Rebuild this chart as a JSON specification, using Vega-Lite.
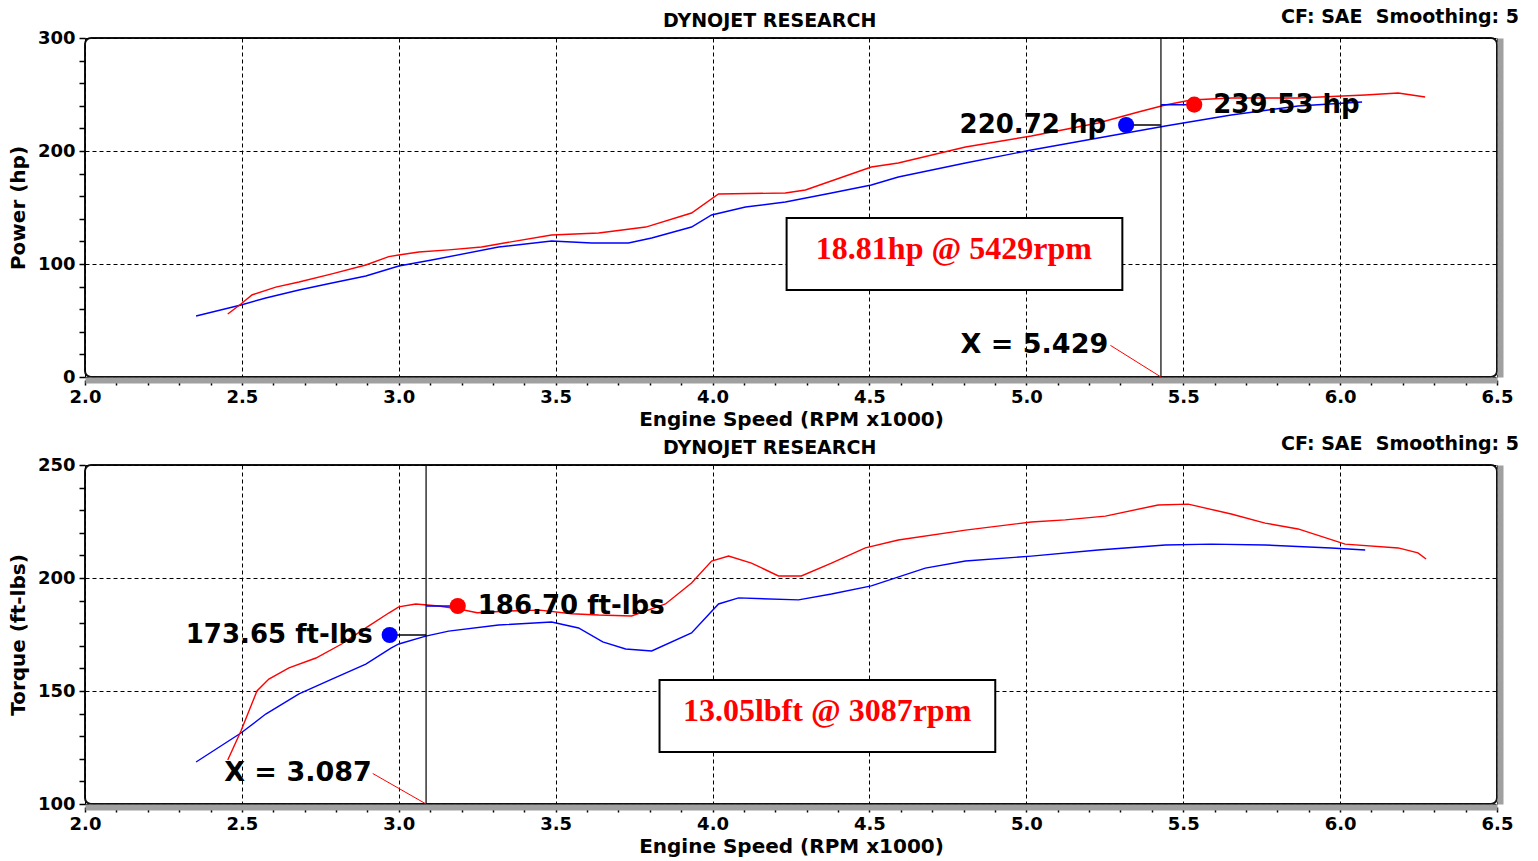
{
  "$schema": "https://vega.github.io/schema/vega-lite/v6.json",
  "background": "white",
  "padding": {"left": 7, "top": 7, "right": 4, "bottom": 2},
  "spacing": 4,
  "config": {
    "view": {"stroke": "#111", "strokeWidth": 2, "cornerRadius": 6},
    "font": "DejaVu Sans",
    "axis": {
      "labelFont": "DejaVu Sans", "labelFontWeight": "bold", "labelFontSize": 18, "labelColor": "#000",
      "titleFont": "DejaVu Sans", "titleFontWeight": "bold", "titleFontSize": 20, "titleColor": "#000",
      "tickColor": "#000", "tickWidth": 1.5, "gridColor": "#000", "gridDash": [4, 3], "gridWidth": 1
    }
  },
  "datasets": {
    "power": [
      {"run": "Run 1", "rpm": 2.354, "hp": 54.0}, {"run": "Run 1", "rpm": 2.497, "hp": 63.7}, {"run": "Run 1", "rpm": 2.576, "hp": 69.9},
      {"run": "Run 1", "rpm": 2.682, "hp": 77.0}, {"run": "Run 1", "rpm": 2.787, "hp": 83.2}, {"run": "Run 1", "rpm": 2.895, "hp": 89.4},
      {"run": "Run 1", "rpm": 3.0, "hp": 98.2}, {"run": "Run 1", "rpm": 3.105, "hp": 103.5}, {"run": "Run 1", "rpm": 3.318, "hp": 115.0},
      {"run": "Run 1", "rpm": 3.487, "hp": 120.4}, {"run": "Run 1", "rpm": 3.615, "hp": 118.6}, {"run": "Run 1", "rpm": 3.732, "hp": 118.6},
      {"run": "Run 1", "rpm": 3.806, "hp": 123.0}, {"run": "Run 1", "rpm": 3.933, "hp": 132.7}, {"run": "Run 1", "rpm": 3.997, "hp": 143.4},
      {"run": "Run 1", "rpm": 4.105, "hp": 150.4}, {"run": "Run 1", "rpm": 4.232, "hp": 154.9}, {"run": "Run 1", "rpm": 4.379, "hp": 162.8},
      {"run": "Run 1", "rpm": 4.506, "hp": 169.9}, {"run": "Run 1", "rpm": 4.592, "hp": 177.0}, {"run": "Run 1", "rpm": 4.806, "hp": 189.4},
      {"run": "Run 1", "rpm": 5.016, "hp": 200.9}, {"run": "Run 1", "rpm": 5.229, "hp": 211.5}, {"run": "Run 1", "rpm": 5.443, "hp": 222.1},
      {"run": "Run 1", "rpm": 5.653, "hp": 231.9}, {"run": "Run 1", "rpm": 5.866, "hp": 239.8}, {"run": "Run 1", "rpm": 6.07, "hp": 243.4},
      {"run": "Run 2", "rpm": 2.455, "hp": 55.8}, {"run": "Run 2", "rpm": 2.497, "hp": 64.6}, {"run": "Run 2", "rpm": 2.532, "hp": 72.6},
      {"run": "Run 2", "rpm": 2.608, "hp": 79.6}, {"run": "Run 2", "rpm": 2.682, "hp": 84.1}, {"run": "Run 2", "rpm": 2.787, "hp": 91.2},
      {"run": "Run 2", "rpm": 2.895, "hp": 99.1}, {"run": "Run 2", "rpm": 2.968, "hp": 106.5}, {"run": "Run 2", "rpm": 3.0, "hp": 108.0},
      {"run": "Run 2", "rpm": 3.064, "hp": 110.6}, {"run": "Run 2", "rpm": 3.159, "hp": 112.5}, {"run": "Run 2", "rpm": 3.264, "hp": 115.0},
      {"run": "Run 2", "rpm": 3.318, "hp": 117.7}, {"run": "Run 2", "rpm": 3.487, "hp": 125.7}, {"run": "Run 2", "rpm": 3.637, "hp": 127.4},
      {"run": "Run 2", "rpm": 3.787, "hp": 132.7}, {"run": "Run 2", "rpm": 3.933, "hp": 145.1}, {"run": "Run 2", "rpm": 4.019, "hp": 162.0},
      {"run": "Run 2", "rpm": 4.232, "hp": 162.8}, {"run": "Run 2", "rpm": 4.296, "hp": 165.5}, {"run": "Run 2", "rpm": 4.506, "hp": 185.8},
      {"run": "Run 2", "rpm": 4.592, "hp": 189.4}, {"run": "Run 2", "rpm": 4.806, "hp": 203.5}, {"run": "Run 2", "rpm": 5.016, "hp": 213.3},
      {"run": "Run 2", "rpm": 5.229, "hp": 224.8}, {"run": "Run 2", "rpm": 5.357, "hp": 234.5}, {"run": "Run 2", "rpm": 5.443, "hp": 240.7},
      {"run": "Run 2", "rpm": 5.525, "hp": 245.1}, {"run": "Run 2", "rpm": 5.653, "hp": 246.9}, {"run": "Run 2", "rpm": 5.866, "hp": 246.9},
      {"run": "Run 2", "rpm": 6.08, "hp": 249.6}, {"run": "Run 2", "rpm": 6.185, "hp": 251.3}, {"run": "Run 2", "rpm": 6.271, "hp": 247.8}
    ],
    "torque": [
      {"run": "Run 1", "rpm": 2.354, "tq": 118.6}, {"run": "Run 1", "rpm": 2.497, "tq": 131.4}, {"run": "Run 1", "rpm": 2.576, "tq": 139.8},
      {"run": "Run 1", "rpm": 2.682, "tq": 148.7}, {"run": "Run 1", "rpm": 2.787, "tq": 155.3}, {"run": "Run 1", "rpm": 2.895, "tq": 161.9},
      {"run": "Run 1", "rpm": 2.975, "tq": 169.0}, {"run": "Run 1", "rpm": 3.0, "tq": 170.8}, {"run": "Run 1", "rpm": 3.086, "tq": 174.3},
      {"run": "Run 1", "rpm": 3.159, "tq": 176.5}, {"run": "Run 1", "rpm": 3.318, "tq": 179.2}, {"run": "Run 1", "rpm": 3.487, "tq": 180.5},
      {"run": "Run 1", "rpm": 3.573, "tq": 177.9}, {"run": "Run 1", "rpm": 3.65, "tq": 171.7}, {"run": "Run 1", "rpm": 3.723, "tq": 168.6},
      {"run": "Run 1", "rpm": 3.806, "tq": 167.7}, {"run": "Run 1", "rpm": 3.933, "tq": 175.7}, {"run": "Run 1", "rpm": 4.019, "tq": 188.5},
      {"run": "Run 1", "rpm": 4.083, "tq": 191.2}, {"run": "Run 1", "rpm": 4.274, "tq": 190.3}, {"run": "Run 1", "rpm": 4.379, "tq": 192.9},
      {"run": "Run 1", "rpm": 4.506, "tq": 196.5}, {"run": "Run 1", "rpm": 4.678, "tq": 204.4}, {"run": "Run 1", "rpm": 4.806, "tq": 207.5},
      {"run": "Run 1", "rpm": 5.016, "tq": 209.7}, {"run": "Run 1", "rpm": 5.229, "tq": 212.4}, {"run": "Run 1", "rpm": 5.443, "tq": 214.6},
      {"run": "Run 1", "rpm": 5.589, "tq": 215.0}, {"run": "Run 1", "rpm": 5.761, "tq": 214.6}, {"run": "Run 1", "rpm": 5.971, "tq": 213.3},
      {"run": "Run 1", "rpm": 6.08, "tq": 212.4},
      {"run": "Run 2", "rpm": 2.455, "tq": 119.5}, {"run": "Run 2", "rpm": 2.497, "tq": 132.3}, {"run": "Run 2", "rpm": 2.548, "tq": 150.0},
      {"run": "Run 2", "rpm": 2.586, "tq": 155.3}, {"run": "Run 2", "rpm": 2.65, "tq": 160.2}, {"run": "Run 2", "rpm": 2.736, "tq": 164.6},
      {"run": "Run 2", "rpm": 2.818, "tq": 170.8}, {"run": "Run 2", "rpm": 2.895, "tq": 177.9}, {"run": "Run 2", "rpm": 2.968, "tq": 184.5},
      {"run": "Run 2", "rpm": 3.0, "tq": 187.2}, {"run": "Run 2", "rpm": 3.054, "tq": 188.5}, {"run": "Run 2", "rpm": 3.127, "tq": 187.6},
      {"run": "Run 2", "rpm": 3.191, "tq": 186.3}, {"run": "Run 2", "rpm": 3.25, "tq": 184.6}, {"run": "Run 2", "rpm": 3.35, "tq": 185.4},
      {"run": "Run 2", "rpm": 3.45, "tq": 185.8}, {"run": "Run 2", "rpm": 3.55, "tq": 184.2}, {"run": "Run 2", "rpm": 3.637, "tq": 183.6},
      {"run": "Run 2", "rpm": 3.742, "tq": 183.2}, {"run": "Run 2", "rpm": 3.85, "tq": 188.5}, {"run": "Run 2", "rpm": 3.933, "tq": 197.8},
      {"run": "Run 2", "rpm": 3.997, "tq": 207.5}, {"run": "Run 2", "rpm": 4.051, "tq": 209.7}, {"run": "Run 2", "rpm": 4.124, "tq": 206.6},
      {"run": "Run 2", "rpm": 4.21, "tq": 200.9}, {"run": "Run 2", "rpm": 4.283, "tq": 200.9}, {"run": "Run 2", "rpm": 4.379, "tq": 206.6},
      {"run": "Run 2", "rpm": 4.487, "tq": 213.3}, {"run": "Run 2", "rpm": 4.592, "tq": 216.8}, {"run": "Run 2", "rpm": 4.806, "tq": 221.2},
      {"run": "Run 2", "rpm": 5.016, "tq": 224.8}, {"run": "Run 2", "rpm": 5.124, "tq": 225.7}, {"run": "Run 2", "rpm": 5.252, "tq": 227.4},
      {"run": "Run 2", "rpm": 5.42, "tq": 232.3}, {"run": "Run 2", "rpm": 5.516, "tq": 232.7}, {"run": "Run 2", "rpm": 5.653, "tq": 228.3},
      {"run": "Run 2", "rpm": 5.761, "tq": 224.3}, {"run": "Run 2", "rpm": 5.866, "tq": 221.7}, {"run": "Run 2", "rpm": 6.016, "tq": 215.0},
      {"run": "Run 2", "rpm": 6.185, "tq": 213.3}, {"run": "Run 2", "rpm": 6.248, "tq": 211.1}, {"run": "Run 2", "rpm": 6.274, "tq": 208.4}
    ],
    "top_dots": [
      {"run": "Run 1", "rpm": 5.318, "hp": 223, "label": "220.72 hp"},
      {"run": "Run 2", "rpm": 5.535, "hp": 241, "label": "239.53 hp"}
    ],
    "bot_dots": [
      {"run": "Run 1", "rpm": 2.971, "tq": 174.8, "label": "173.65 ft-lbs"},
      {"run": "Run 2", "rpm": 3.188, "tq": 187.6, "label": "186.70 ft-lbs"}
    ]
  },
  "vconcat": [
    {
      "width": 1412,
      "height": 339,
      "resolve": {"axis": {"y": "independent"}},
      "layer": [
        {
          "data": {"name": "power"},
          "mark": {"type": "line", "strokeWidth": 1.4},
          "encoding": {
            "x": {"field": "rpm", "type": "quantitative", "scale": {"domain": [2, 6.5], "nice": false, "zero": false},
              "axis": {"title": "Engine Speed (RPM x1000)", "tickCount": 200,
                "values": [2.0,2.1,2.2,2.3,2.4,2.5,2.6,2.7,2.8,2.9,3.0,3.1,3.2,3.3,3.4,3.5,3.6,3.7,3.8,3.9,4.0,4.1,4.2,4.3,4.4,4.5,4.6,4.7,4.8,4.9,5.0,5.1,5.2,5.3,5.4,5.5,5.6,5.7,5.8,5.9,6.0,6.1,6.2,6.3,6.4,6.5],
                "labelExpr": "abs(datum.value * 2 - round(datum.value * 2)) < 0.001 ? format(datum.value, '.1f') : ''",
                "labelOverlap": false,
                "gridOpacity": {"condition": {"test": "abs(datum.value * 2 - round(datum.value * 2)) < 0.001", "value": 1}, "value": 0},
                "domainColor": "#a0a0a0", "domainWidth": 6, "offset": 3, "tickSize": 5, "labelPadding": 3, "titlePadding": 3, "labelFlush": false}},
            "y": {"field": "hp", "type": "quantitative", "scale": {"domain": [0, 300], "nice": false},
              "axis": {"title": "Power (hp)", "tickCount": 200,
                "values": [0,20,40,60,80,100,120,140,160,180,200,220,240,260,280,300],
                "labelExpr": "datum.value % 100 === 0 ? datum.label : ''",
                "labelOverlap": false,
                "gridOpacity": {"condition": {"test": "datum.value % 100 === 0", "value": 1}, "value": 0},
                "domain": false, "tickSize": 6, "labelPadding": 4, "titlePadding": 9, "labelFlush": false}},
            "color": {"field": "run", "type": "nominal", "scale": {"domain": ["Run 1", "Run 2"], "range": ["#0000ff", "#ff0000"]}, "legend": null}
          }
        },
        {
          "data": {"values": [{"x": 5.429}]},
          "mark": {"type": "rule", "color": "#000", "strokeWidth": 1.2},
          "encoding": {"x": {"field": "x", "type": "quantitative"}}
        },
        {
          "data": {"values": [{"x": 5.318, "x2": 5.429, "y": 223}]},
          "mark": {"type": "rule", "color": "#000", "strokeWidth": 1.5},
          "encoding": {"x": {"field": "x", "type": "quantitative"}, "x2": {"field": "x2"}, "y": {"field": "y", "type": "quantitative", "axis": null}}
        },
        {
          "data": {"values": [{"x": 5.429, "x2": 5.535, "y": 241}]},
          "mark": {"type": "rule", "color": "#0000ff", "strokeWidth": 1.5},
          "encoding": {"x": {"field": "x", "type": "quantitative"}, "x2": {"field": "x2"}, "y": {"field": "y", "type": "quantitative", "axis": null}}
        },
        {
          "data": {"name": "top_dots"},
          "mark": {"type": "circle", "size": 260, "opacity": 1},
          "encoding": {
            "x": {"field": "rpm", "type": "quantitative"},
            "y": {"field": "hp", "type": "quantitative",
              "axis": {"orient": "right", "labels": false, "ticks": false, "grid": false, "title": null, "domainColor": "#a0a0a0", "domainWidth": 6, "offset": 3}},
            "color": {"field": "run", "type": "nominal", "legend": null}
          }
        },
        {
          "data": {"name": "top_dots"},
          "transform": [{"filter": "datum.run === 'Run 1'"}],
          "mark": {"type": "text", "align": "right", "baseline": "middle", "dx": -20, "font": "DejaVu Sans", "fontWeight": "bold", "fontSize": 26, "color": "#000"},
          "encoding": {"x": {"field": "rpm", "type": "quantitative"}, "y": {"field": "hp", "type": "quantitative", "axis": null}, "text": {"field": "label"}}
        },
        {
          "data": {"name": "top_dots"},
          "transform": [{"filter": "datum.run === 'Run 2'"}],
          "mark": {"type": "text", "align": "left", "baseline": "middle", "dx": 19, "font": "DejaVu Sans", "fontWeight": "bold", "fontSize": 26, "color": "#000"},
          "encoding": {"x": {"field": "rpm", "type": "quantitative"}, "y": {"field": "hp", "type": "quantitative", "axis": null}, "text": {"field": "label"}}
        },
        {
          "data": {"values": [{"x": 4.236, "x2": 5.306, "y": 140.7, "y2": 77}]},
          "mark": {"type": "rect", "fill": "#fff", "stroke": "#000", "strokeWidth": 2},
          "encoding": {"x": {"field": "x", "type": "quantitative"}, "x2": {"field": "x2"}, "y": {"field": "y", "type": "quantitative", "axis": null}, "y2": {"field": "y2"}}
        },
        {
          "data": {"values": [{"x": 4.769, "y": 104.4, "t": "18.81hp @ 5429rpm"}]},
          "mark": {"type": "text", "align": "center", "baseline": "alphabetic", "font": "Liberation Serif", "fontWeight": "bold", "fontSize": 32, "color": "#ff0000"},
          "encoding": {"x": {"field": "x", "type": "quantitative"}, "y": {"field": "y", "type": "quantitative", "axis": null}, "text": {"field": "t"}}
        },
        {
          "data": {"values": [{"x": 5.268, "y": 28, "x2": 5.429, "y2": 0}]},
          "mark": {"type": "rule", "color": "#ff0000", "strokeWidth": 1},
          "encoding": {"x": {"field": "x", "type": "quantitative"}, "x2": {"field": "x2"}, "y": {"field": "y", "type": "quantitative", "axis": null}, "y2": {"field": "y2"}}
        },
        {
          "data": {"values": [{"x": 5.261, "y": 21.2, "t": "X = 5.429"}]},
          "mark": {"type": "text", "align": "right", "baseline": "alphabetic", "font": "DejaVu Sans", "fontWeight": "bold", "fontSize": 27, "color": "#000"},
          "encoding": {"x": {"field": "x", "type": "quantitative"}, "y": {"field": "y", "type": "quantitative", "axis": null}, "text": {"field": "t"}}
        },
        {
          "data": {"values": [{"x": 4.182, "y": 300, "t": "DYNOJET RESEARCH"}]},
          "mark": {"type": "text", "align": "center", "baseline": "alphabetic", "dy": -11, "font": "DejaVu Sans", "fontWeight": "bold", "fontSize": 19, "color": "#000"},
          "encoding": {"x": {"field": "x", "type": "quantitative"}, "y": {"field": "y", "type": "quantitative", "axis": null}, "text": {"field": "t"}}
        },
        {
          "data": {"values": [{"x": 6.5, "y": 300, "t": "CF: SAE \u00a0Smoothing: 5"}]},
          "mark": {"type": "text", "align": "right", "baseline": "alphabetic", "dx": 22, "dy": -15, "font": "DejaVu Sans", "fontWeight": "bold", "fontSize": 19, "color": "#000"},
          "encoding": {"x": {"field": "x", "type": "quantitative"}, "y": {"field": "y", "type": "quantitative", "axis": null}, "text": {"field": "t"}}
        }
      ]
    },
    {
      "width": 1412,
      "height": 339,
      "resolve": {"axis": {"y": "independent"}},
      "layer": [
        {
          "data": {"name": "torque"},
          "mark": {"type": "line", "strokeWidth": 1.4},
          "encoding": {
            "x": {"field": "rpm", "type": "quantitative", "scale": {"domain": [2, 6.5], "nice": false, "zero": false},
              "axis": {"title": "Engine Speed (RPM x1000)", "tickCount": 200,
                "values": [2.0,2.1,2.2,2.3,2.4,2.5,2.6,2.7,2.8,2.9,3.0,3.1,3.2,3.3,3.4,3.5,3.6,3.7,3.8,3.9,4.0,4.1,4.2,4.3,4.4,4.5,4.6,4.7,4.8,4.9,5.0,5.1,5.2,5.3,5.4,5.5,5.6,5.7,5.8,5.9,6.0,6.1,6.2,6.3,6.4,6.5],
                "labelExpr": "abs(datum.value * 2 - round(datum.value * 2)) < 0.001 ? format(datum.value, '.1f') : ''",
                "labelOverlap": false,
                "gridOpacity": {"condition": {"test": "abs(datum.value * 2 - round(datum.value * 2)) < 0.001", "value": 1}, "value": 0},
                "domainColor": "#a0a0a0", "domainWidth": 6, "offset": 3, "tickSize": 5, "labelPadding": 3, "titlePadding": 3, "labelFlush": false}},
            "y": {"field": "tq", "type": "quantitative", "scale": {"domain": [100, 250], "nice": false, "zero": false},
              "axis": {"title": "Torque (ft-lbs)", "tickCount": 200,
                "values": [100,110,120,130,140,150,160,170,180,190,200,210,220,230,240,250],
                "labelExpr": "datum.value % 50 === 0 ? datum.label : ''",
                "labelOverlap": false,
                "gridOpacity": {"condition": {"test": "datum.value % 50 === 0", "value": 1}, "value": 0},
                "domain": false, "tickSize": 6, "labelPadding": 4, "titlePadding": 9, "labelFlush": false}},
            "color": {"field": "run", "type": "nominal", "scale": {"domain": ["Run 1", "Run 2"], "range": ["#0000ff", "#ff0000"]}, "legend": null}
          }
        },
        {
          "data": {"values": [{"x": 3.087}]},
          "mark": {"type": "rule", "color": "#000", "strokeWidth": 1.2},
          "encoding": {"x": {"field": "x", "type": "quantitative"}}
        },
        {
          "data": {"values": [{"x": 2.971, "x2": 3.087, "y": 174.8}]},
          "mark": {"type": "rule", "color": "#000", "strokeWidth": 1.5},
          "encoding": {"x": {"field": "x", "type": "quantitative"}, "x2": {"field": "x2"}, "y": {"field": "y", "type": "quantitative", "axis": null}}
        },
        {
          "data": {"values": [{"x": 3.087, "x2": 3.188, "y": 187.6}]},
          "mark": {"type": "rule", "color": "#0000ff", "strokeWidth": 1.5},
          "encoding": {"x": {"field": "x", "type": "quantitative"}, "x2": {"field": "x2"}, "y": {"field": "y", "type": "quantitative", "axis": null}}
        },
        {
          "data": {"name": "bot_dots"},
          "mark": {"type": "circle", "size": 260, "opacity": 1},
          "encoding": {
            "x": {"field": "rpm", "type": "quantitative"},
            "y": {"field": "tq", "type": "quantitative",
              "axis": {"orient": "right", "labels": false, "ticks": false, "grid": false, "title": null, "domainColor": "#a0a0a0", "domainWidth": 6, "offset": 3}},
            "color": {"field": "run", "type": "nominal", "legend": null}
          }
        },
        {
          "data": {"name": "bot_dots"},
          "transform": [{"filter": "datum.run === 'Run 1'"}],
          "mark": {"type": "text", "align": "right", "baseline": "middle", "dx": -17, "font": "DejaVu Sans", "fontWeight": "bold", "fontSize": 26, "color": "#000"},
          "encoding": {"x": {"field": "rpm", "type": "quantitative"}, "y": {"field": "tq", "type": "quantitative", "axis": null}, "text": {"field": "label"}}
        },
        {
          "data": {"name": "bot_dots"},
          "transform": [{"filter": "datum.run === 'Run 2'"}],
          "mark": {"type": "text", "align": "left", "baseline": "middle", "dx": 20, "font": "DejaVu Sans", "fontWeight": "bold", "fontSize": 26, "color": "#000"},
          "encoding": {"x": {"field": "rpm", "type": "quantitative"}, "y": {"field": "tq", "type": "quantitative", "axis": null}, "text": {"field": "label"}}
        },
        {
          "data": {"values": [{"x": 3.831, "x2": 4.901, "y": 154.9, "y2": 123}]},
          "mark": {"type": "rect", "fill": "#fff", "stroke": "#000", "strokeWidth": 2},
          "encoding": {"x": {"field": "x", "type": "quantitative"}, "x2": {"field": "x2"}, "y": {"field": "y", "type": "quantitative", "axis": null}, "y2": {"field": "y2"}}
        },
        {
          "data": {"values": [{"x": 4.365, "y": 136.7, "t": "13.05lbft @ 3087rpm"}]},
          "mark": {"type": "text", "align": "center", "baseline": "alphabetic", "font": "Liberation Serif", "fontWeight": "bold", "fontSize": 32, "color": "#ff0000"},
          "encoding": {"x": {"field": "x", "type": "quantitative"}, "y": {"field": "y", "type": "quantitative", "axis": null}, "text": {"field": "t"}}
        },
        {
          "data": {"values": [{"x": 2.917, "y": 113.5, "x2": 3.087, "y2": 100}]},
          "mark": {"type": "rule", "color": "#ff0000", "strokeWidth": 1},
          "encoding": {"x": {"field": "x", "type": "quantitative"}, "x2": {"field": "x2"}, "y": {"field": "y", "type": "quantitative", "axis": null}, "y2": {"field": "y2"}}
        },
        {
          "data": {"values": [{"x": 2.914, "y": 110.2, "t": "X = 3.087"}]},
          "mark": {"type": "text", "align": "right", "baseline": "alphabetic", "font": "DejaVu Sans", "fontWeight": "bold", "fontSize": 27, "color": "#000"},
          "encoding": {"x": {"field": "x", "type": "quantitative"}, "y": {"field": "y", "type": "quantitative", "axis": null}, "text": {"field": "t"}}
        },
        {
          "data": {"values": [{"x": 4.182, "y": 250, "t": "DYNOJET RESEARCH"}]},
          "mark": {"type": "text", "align": "center", "baseline": "alphabetic", "dy": -11, "font": "DejaVu Sans", "fontWeight": "bold", "fontSize": 19, "color": "#000"},
          "encoding": {"x": {"field": "x", "type": "quantitative"}, "y": {"field": "y", "type": "quantitative", "axis": null}, "text": {"field": "t"}}
        },
        {
          "data": {"values": [{"x": 6.5, "y": 250, "t": "CF: SAE \u00a0Smoothing: 5"}]},
          "mark": {"type": "text", "align": "right", "baseline": "alphabetic", "dx": 22, "dy": -15, "font": "DejaVu Sans", "fontWeight": "bold", "fontSize": 19, "color": "#000"},
          "encoding": {"x": {"field": "x", "type": "quantitative"}, "y": {"field": "y", "type": "quantitative", "axis": null}, "text": {"field": "t"}}
        }
      ]
    }
  ]
}
